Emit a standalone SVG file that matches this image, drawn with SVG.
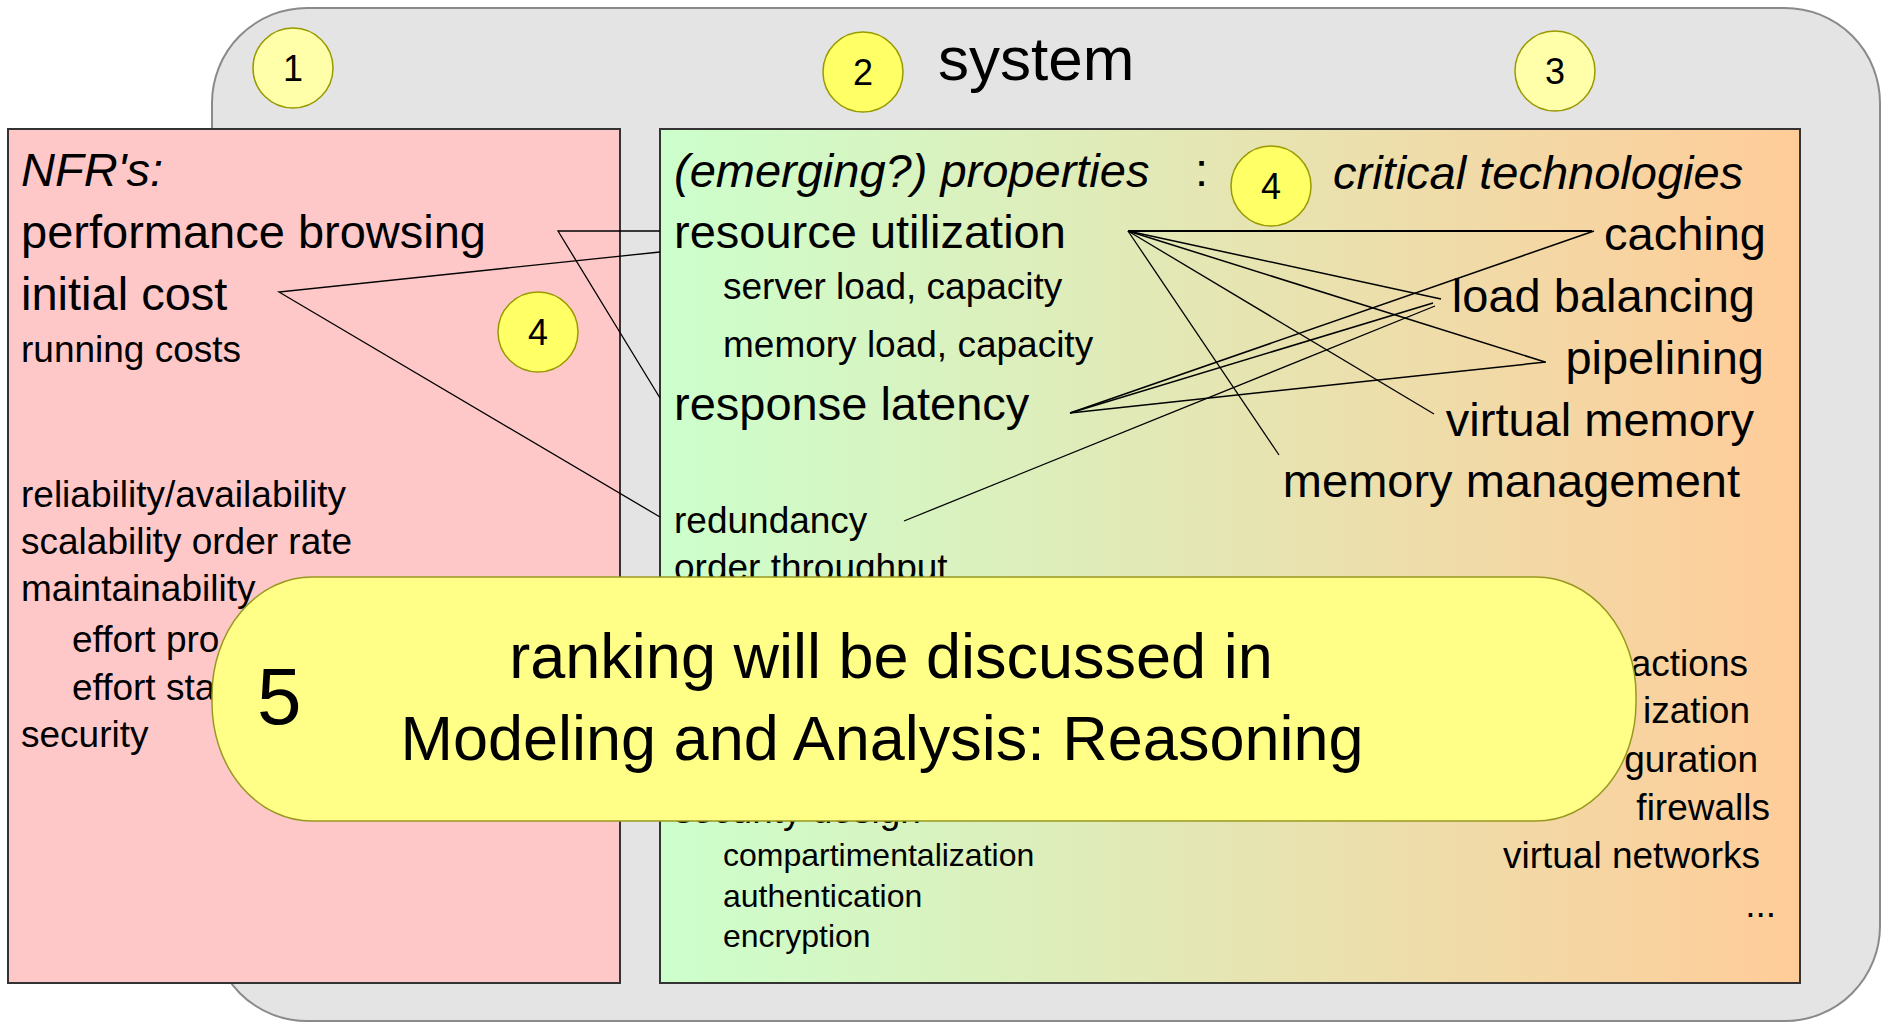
<svg xmlns="http://www.w3.org/2000/svg" width="1889" height="1023" viewBox="0 0 1889 1023">
<style>
text{font-family:"Liberation Sans",Arial,sans-serif;fill:#000}
.l{font-size:47px}
.m{font-size:37px}
.s{font-size:32px}
.it{font-style:italic}
.r{text-anchor:end}
.c{text-anchor:middle}
.box{stroke:#333;stroke-width:2}
.pale{fill:#ffffaa;stroke:#999900;stroke-width:1.5}
.bright{fill:#ffff66;stroke:#999900;stroke-width:1.5}
.num{font-size:36px;text-anchor:middle}
.cn{stroke:#000;fill:none}
</style>
<defs>
<linearGradient id="gp" x1="0" y1="0" x2="1" y2="0">
<stop offset="0" stop-color="#ccffcc"/>
<stop offset="1" stop-color="#ffcc99"/>
</linearGradient>
</defs>
<g id="system">
<rect x="212" y="8" width="1668" height="1013" rx="95" ry="95" fill="#e4e4e4" stroke="#8a8a8a" stroke-width="2"/>
<text x="938" y="80" style="font-size:62px">system</text>
</g>
<g id="nfr">
<rect class="box" x="8" y="129" width="612" height="854" fill="#ffc8c8"/>
<text class="l it" x="21" y="186">NFR's:</text>
<text class="l" x="21" y="248">performance browsing</text>
<text class="l" x="21" y="310">initial cost</text>
<text class="m" x="21" y="362">running costs</text>
<text class="m" x="21" y="507">reliability/availability</text>
<text class="m" x="21" y="554">scalability order rate</text>
<text class="m" x="21" y="601">maintainability</text>
<text class="m" x="72" y="652">effort pro</text>
<text class="m" x="72" y="700">effort sta</text>
<text class="m" x="21" y="747">security</text>
</g>
<g id="properties">
<rect class="box" x="660" y="129" width="1140" height="854" fill="url(#gp)"/>
<text class="l it" x="674" y="187">(emerging?) properties</text>
<text class="l" x="1195" y="186">:</text>
<text class="l it" x="1333" y="189">critical technologies</text>
<text class="l" x="674" y="248">resource utilization</text>
<text class="m" x="723" y="299">server load, capacity</text>
<text class="m" x="723" y="357">memory load, capacity</text>
<text class="l" x="674" y="420">response latency</text>
<text class="m" x="674" y="533">redundancy</text>
<text class="m" x="674" y="580">order throughput</text>
<text class="m" x="674" y="823">security design</text>
<text class="s" x="723" y="866">compartimentalization</text>
<text class="s" x="723" y="907">authentication</text>
<text class="s" x="723" y="947">encryption</text>
<text class="l r" x="1766" y="250">caching</text>
<text class="l r" x="1755" y="312">load balancing</text>
<text class="l r" x="1764" y="374">pipelining</text>
<text class="l r" x="1754" y="436">virtual memory</text>
<text class="l r" x="1740" y="497">memory management</text>
<text class="m r" x="1748" y="676">actions</text>
<text class="m r" x="1750" y="723">ization</text>
<text class="m r" x="1758" y="772">guration</text>
<text class="m r" x="1770" y="820">firewalls</text>
<text class="m r" x="1760" y="868">virtual networks</text>
<text class="m r" x="1776" y="917">...</text>
</g>
<g id="connectors">
<polyline class="cn" stroke-width="1.3" points="660,231 558,231 660,398"/>
<polyline class="cn" stroke-width="1.3" points="660,252 279,292 660,517"/>
<line class="cn" stroke-width="1.8" x1="1128" y1="231" x2="1592" y2="231"/>
<line class="cn" stroke-width="1.5" x1="1128" y1="231" x2="1441" y2="299"/>
<line class="cn" stroke-width="1.5" x1="1128" y1="231" x2="1545" y2="362"/>
<line class="cn" stroke-width="1.3" x1="1128" y1="231" x2="1434" y2="414"/>
<line class="cn" stroke-width="1.3" x1="1128" y1="231" x2="1279" y2="455"/>
<line class="cn" stroke-width="1.5" x1="1070" y1="413" x2="1594" y2="231"/>
<line class="cn" stroke-width="1.5" x1="1070" y1="413" x2="1433" y2="303"/>
<line class="cn" stroke-width="1.5" x1="1070" y1="413" x2="1546" y2="362"/>
<line class="cn" stroke-width="1.3" x1="904" y1="521" x2="1435" y2="306"/>
</g>
<g id="marker1"><circle class="pale" cx="293" cy="68" r="40"/><text class="num" x="293" y="81">1</text></g>
<g id="marker2"><circle class="bright" cx="863" cy="72" r="40"/><text class="num" x="863" y="85">2</text></g>
<g id="marker3"><circle class="pale" cx="1555" cy="71" r="40"/><text class="num" x="1555" y="84">3</text></g>
<g id="marker4a"><circle class="bright" cx="538" cy="332" r="40"/><text class="num" x="538" y="345">4</text></g>
<g id="marker4b"><circle class="bright" cx="1271" cy="186" r="40"/><text class="num" x="1271" y="199">4</text></g>
<g id="callout">
<rect x="212" y="577" width="1424" height="244" rx="100" ry="118" fill="#ffff88" stroke="#999922" stroke-width="1.5"/>
<text x="257" y="724" style="font-size:80px">5</text>
<text class="c" x="891" y="678" style="font-size:63px">ranking will be discussed in</text>
<text class="c" x="882" y="760" style="font-size:63px">Modeling and Analysis: Reasoning</text>
</g>
</svg>
